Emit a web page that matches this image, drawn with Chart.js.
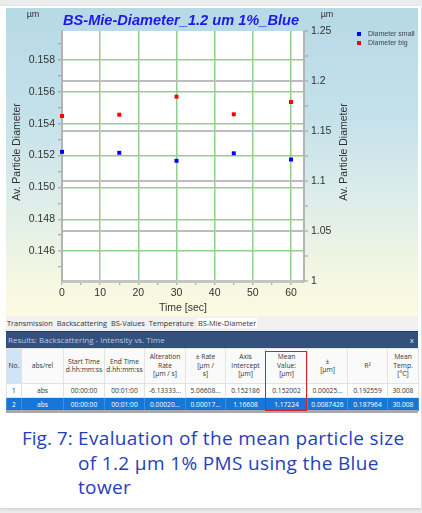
<!DOCTYPE html>
<html>
<head>
<meta charset="utf-8">
<script src="https://cdn.jsdelivr.net/npm/chart.js@4.4.1/dist/chart.umd.min.js"></script>
<style>
  html, body { margin: 0; padding: 0; }
  body { width: 422px; height: 513px; background: #ececec; position: relative; overflow: hidden; font-family: "Liberation Sans", Arial, sans-serif; }
  #card { position: absolute; left: 0; top: 6px; width: 421px; height: 502px; background: #fff; box-shadow: 0 1px 3px rgba(0,0,0,0.15); }
  #panel { position: absolute; left: 6px; top: 8px; width: 412px; height: 308px;
    background: linear-gradient(180deg, #b6d9e6 0%, #c4e1ea 35%, #dbecea 60%, #f2f6e2 85%, #fcfae0 100%); }
  #panel canvas { position: absolute; left: 0; top: 0; }
  #tabs { position: absolute; left: 6px; top: 316px; width: 412px; height: 15px; background: #f1f1f1; font: 7.4px "Open Sans", sans-serif; color: #333; line-height: 15px; white-space: nowrap; }
  #tabs span { padding: 0 1px; }
  #tabs span.act { background: #fff; }
  #bar { position: absolute; left: 6px; top: 331px; width: 412px; height: 17px; background: #34507c; border-top: 1px solid #23395e; box-sizing: border-box; font: 8px "Open Sans", sans-serif; color: #b9cbe6; line-height: 16px; padding-left: 2px; }
  #bar .x { position: absolute; right: 4px; top: 0; color: #dde6f3; }
  table { position: absolute; left: 6px; top: 348px; width: 412px; border-collapse: collapse; table-layout: fixed; font: 6.7px "Open Sans", sans-serif; color: #333; }
  td { border: 1px solid #e2e2e2; text-align: center; padding: 0; overflow: hidden; white-space: nowrap; }
  tr.h td { height: 34px; background: #fafafa; line-height: 8.5px; white-space: normal; }
  tr.h td.no { background: #cfe4f6; }
  tr.r1 td { height: 13px; background: #fff; }
  tr.r2 td { height: 12px; background: #1677d8; color: #fff; border-color: #3b8de0; }
  #line { position: absolute; left: 6px; top: 410px; width: 412px; height: 3px; background: #a9a9a9; }
  #redbox { position: absolute; left: 265px; top: 351px; width: 42px; height: 60px; border: 1.6px solid #d62020; box-sizing: border-box; }
  #caption { position: absolute; left: 22px; top: 426px; font: 19px "Open Sans", sans-serif; color: #1f3fbe; line-height: 24.5px; letter-spacing: 0.35px; }
  #caption .lab { position: absolute; left: 0; top: 0; white-space: nowrap; letter-spacing: 0; }
  #caption .txt { position: absolute; left: 56px; top: 0; white-space: nowrap; }
</style>
</head>
<body>
<div id="card"></div>
<div id="panel"><canvas id="c" width="412" height="308"></canvas></div>
<div id="tabs"><span>Transmission</span> <span>Backscattering</span> <span>BS-Values</span> <span>Temperature</span> <span class="act">BS-Mie-Diameter</span></div>
<div id="bar">Results: Backscattering - Intensity vs. Time<span class="x">x</span></div>
<table>
  <colgroup>
    <col style="width:15px"><col style="width:42px"><col style="width:41px"><col style="width:40px"><col style="width:41px"><col style="width:40px"><col style="width:40px"><col style="width:42px"><col style="width:40px"><col style="width:40px"><col style="width:31px">
  </colgroup>
  <tr class="h">
    <td class="no">No.</td><td>abs/rel</td><td>Start Time<br>d.hh:mm:ss</td><td>End Time<br>d.hh:mm:ss</td><td>Alteration<br>Rate<br>[µm / s]</td><td>± Rate<br>[µm /<br>s]</td><td>Axis<br>Intercept<br>[µm]</td><td>Mean<br>Value:<br>[µm]</td><td>±<br>[µm]</td><td>R²</td><td>Mean<br>Temp.<br>[°C]</td>
  </tr>
  <tr class="r1">
    <td>1</td><td>abs</td><td>00:00:00</td><td>00:01:00</td><td>-6.13333...</td><td>5.06608...</td><td>0.152186</td><td>0.152002</td><td>0.00025...</td><td>0.192559</td><td>30.008</td>
  </tr>
  <tr class="r2">
    <td>2</td><td>abs</td><td>00:00:00</td><td>00:01:00</td><td>0.00020...</td><td>0.00017...</td><td>1.16608</td><td>1.17224</td><td>0.0087426</td><td>0.187964</td><td>30.008</td>
  </tr>
</table>
<div id="line"></div>
<div id="redbox"></div>
<div id="caption">
  <div class="lab">Fig. 7:</div>
  <div class="txt">Evaluation of the mean particle size<br>of 1.2 µm 1% PMS using the Blue<br>tower</div>
</div>
<script>
// ---- data ----
const times = [0, 15, 30, 45, 60];
const diameterSmall = [0.15223, 0.15217, 0.15167, 0.15214, 0.15175];
const diameterBig = [1.1650, 1.1663, 1.1843, 1.1667, 1.1790];
const xTicks = [0, 10, 20, 30, 40, 50, 60];
const xMinorTicks = [5, 15, 25, 35, 45, 55];
const leftTicks = [0.146, 0.148, 0.150, 0.152, 0.154, 0.156, 0.158];
const leftMinorTicks = [0.145, 0.147, 0.149, 0.151, 0.153, 0.155, 0.157, 0.159];
const rightTicks = [1, 1.05, 1.1, 1.15, 1.2, 1.25];
const rightMinorTicks = [1.025, 1.075, 1.125, 1.175, 1.225];
const rightGridTicks = [1.05, 1.1, 1.15, 1.2];

const GREEN = '#8fd08f';
const isIn = (arr, v) => arr.some(a => Math.abs(a - v) < 1e-9);
const mkTicks = (a, b) => [...a, ...b].sort((p, q) => p - q).map(v => ({ value: v }));

const overlay = {
  id: 'overlay',
  beforeDraw(chart) {
    const { ctx, chartArea: a } = chart;
    ctx.save();
    ctx.fillStyle = '#ffffff';
    ctx.fillRect(a.left, a.top, a.right - a.left, a.bottom - a.top);
    ctx.restore();
  },
  afterDraw(chart) {
    const ctx = chart.ctx;
    ctx.save();
    ctx.textAlign = 'center';
    ctx.textBaseline = 'middle';
    // title
    ctx.fillStyle = '#1a1aec';
    ctx.font = 'italic bold 14.6px "Liberation Sans", Arial, sans-serif';
    ctx.fillText('BS-Mie-Diameter_1.2 um 1%_Blue', 175, 12.5);
    // units
    ctx.fillStyle = '#333';
    ctx.font = '9px "Liberation Sans", Arial, sans-serif';
    ctx.fillText('µm', 27, 7);
    ctx.fillText('µm', 321, 7);
    // x title
    ctx.font = '10.5px "Liberation Sans", Arial, sans-serif';
    ctx.fillText('Time [sec]', 177, 300);
    // y titles
    ctx.font = '10.5px "Liberation Sans", Arial, sans-serif';
    [11, 338].forEach(x => {
      ctx.save();
      ctx.translate(x, 144);
      ctx.rotate(-Math.PI / 2);
      ctx.fillText('Av. Particle Diameter', 0, 0);
      ctx.restore();
    });
    // legend
    const leg = [['Diameter small', '#0000ff'], ['Diameter big', '#ff0000']];
    ctx.textAlign = 'left';
    ctx.font = '7px "Liberation Sans", Arial, sans-serif';
    leg.forEach((l, i) => {
      const y = 26 + i * 9;
      ctx.fillStyle = l[1];
      ctx.fillRect(351, y - 2, 4, 4);
      ctx.fillStyle = '#444';
      ctx.fillText(l[0], 362, y);
    });
    ctx.restore();
  }
};

const tickFont = { family: '"Liberation Sans", Arial, sans-serif', size: 10.5 };

new Chart(document.getElementById('c'), {
  type: 'scatter',
  data: {
    datasets: [
      { label: 'Diameter small', data: times.map((t, i) => ({ x: t, y: diameterSmall[i] })), yAxisID: 'yL',
        backgroundColor: '#0000ff', borderWidth: 0, pointStyle: 'rect', pointRadius: 2.8, clip: false },
      { label: 'Diameter big', data: times.map((t, i) => ({ x: t, y: diameterBig[i] })), yAxisID: 'yR',
        backgroundColor: '#ff0000', borderWidth: 0, pointStyle: 'rect', pointRadius: 2.8, clip: false }
    ]
  },
  options: {
    responsive: false,
    animation: false,
    events: [],
    layout: { padding: { top: 23, left: 0, right: 0, bottom: 0 } },
    plugins: { legend: { display: false }, title: { display: false }, tooltip: { enabled: false } },
    scales: {
      x: {
        type: 'linear', position: 'bottom', min: 0, max: 63.4,
        afterBuildTicks: s => { s.ticks = mkTicks(xTicks, xMinorTicks); },
        afterFit: s => { s.height = 35; },
        ticks: { autoSkip: false, maxRotation: 0, color: '#333', font: tickFont, padding: 2,
          callback: v => isIn(xTicks, v) ? String(v) : '' },
        grid: { color: c => (c.tick && isIn(xTicks, c.tick.value) && c.tick.value !== 0) ? GREEN : 'rgba(0,0,0,0)',
          lineWidth: 1.5, tickColor: '#9a9a9a', tickLength: 4, tickWidth: 1 },
        border: { color: '#c4c4c4', width: 3 }
      },
      yL: {
        type: 'linear', position: 'left', min: 0.14413, max: 0.15981,
        afterBuildTicks: s => { s.ticks = mkTicks(leftTicks, leftMinorTicks); },
        afterFit: s => { s.width = 56; },
        ticks: { autoSkip: false, color: '#333', font: tickFont, padding: 3,
          callback: v => isIn(leftTicks, v) ? v.toFixed(3) : '' },
        grid: { color: c => (c.tick && isIn(leftTicks, c.tick.value)) ? GREEN : 'rgba(0,0,0,0)',
          lineWidth: 1.5, tickColor: '#9a9a9a', tickLength: 4, tickWidth: 1 },
        border: { color: '#b4b4b4', width: 2 }
      },
      yR: {
        type: 'linear', position: 'right', min: 1, max: 1.25,
        afterBuildTicks: s => { s.ticks = mkTicks(rightTicks, rightMinorTicks); },
        afterFit: s => { s.width = 114; },
        ticks: { autoSkip: false, color: '#333', font: tickFont, padding: 3,
          callback: v => isIn(rightTicks, v) ? String(+v.toFixed(2)) : '' },
        grid: { color: c => (c.tick && isIn(rightGridTicks, c.tick.value)) ? '#bdbdbd' : 'rgba(0,0,0,0)',
          lineWidth: 2, tickColor: '#9a9a9a', tickLength: 4, tickWidth: 1 },
        border: { color: '#b4b4b4', width: 2 }
      }
    }
  },
  plugins: [overlay]
});
</script>
</body>
</html>
